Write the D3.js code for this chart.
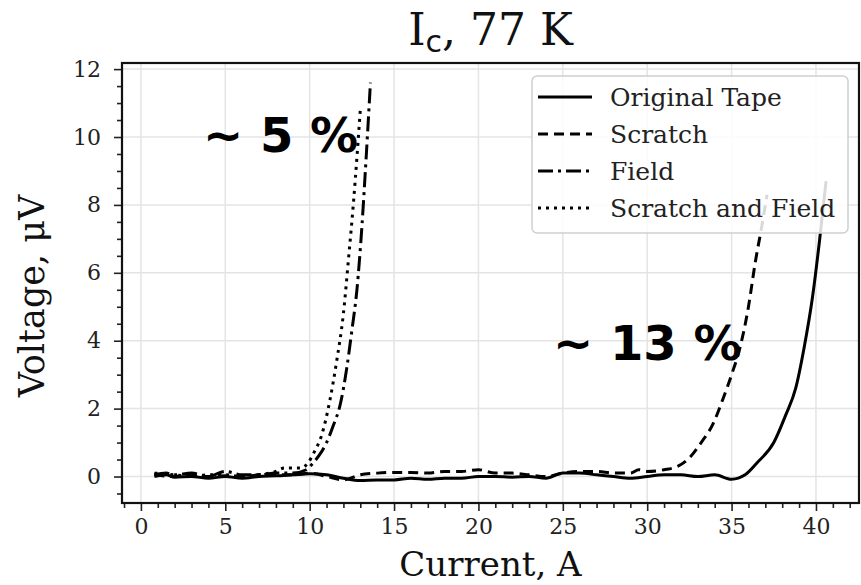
<!DOCTYPE html>
<html>
<head>
<meta charset="utf-8">
<script src="https://cdn.jsdelivr.net/npm/d3@7"></script>
<style>
  html, body { margin: 0; padding: 0; background: #fff; }
  svg { display: block; }
</style>
</head>
<body>
<svg id="chart" width="861" height="585"></svg>
<script>
// ---- Data ----
const originalX = [0.8,1.5,2,3,4,5,6,7,8,9,10,11,12,13,14,15,16,17,18,19,20,21,22,23,24,25,26,27,28,29,30,31,32,33,34,35,35.8,36.5,37.5,38.2,38.8,39.3,39.8,40.2,40.6];
const originalV = [0.0,0.05,-0.02,0.0,-0.05,0.0,-0.05,0.0,0.02,0.05,0.08,0.05,-0.05,-0.12,-0.1,-0.1,-0.05,-0.08,-0.05,-0.05,0.0,0.0,-0.02,0.0,-0.05,0.1,0.1,0.05,0.0,-0.05,0.0,0.05,0.05,0.0,0.05,-0.08,0.05,0.4,1.0,1.8,2.6,3.8,5.3,6.9,8.7];

const scratchX = [0.8,2,3,4,5,6,7,8,9,10,11,12,13,14,15,16,17,18,19,20,21,22,23,24,25,26,27,28,29,29.5,30,31,31.8,32.5,33.2,33.9,34.5,35,35.5,36,36.4,36.8,37.1];
const scratchV = [0.05,0.0,0.05,0.0,0.02,-0.02,0.05,0.05,0.05,0.1,0.0,-0.1,0.05,0.1,0.12,0.12,0.1,0.15,0.15,0.2,0.1,0.1,0.05,0.0,0.1,0.15,0.15,0.1,0.1,0.2,0.15,0.2,0.3,0.55,1.0,1.55,2.3,3.0,3.8,5.0,6.3,7.4,8.3];

const fieldX = [0.8,1.5,2,3,4,5,6,7,8,9,9.8,10.2,10.6,11,11.4,11.8,12.2,12.5,12.8,13.1,13.3,13.6];
const fieldV = [0.05,0.1,0.05,0.1,0.0,0.15,0.05,0.05,0.1,0.1,0.2,0.4,0.65,1.0,1.5,2.1,3.2,4.3,5.5,7.4,9.0,11.6];

const scratchFieldX = [0.8,2,3,4,5,6,7,8,8.5,9,9.5,9.9,10.3,10.7,11.2,11.6,12.0,12.3,12.6,12.8,13.0];
const scratchFieldV = [0.1,0.05,0.0,0.05,0.05,0.0,0.05,0.15,0.25,0.25,0.25,0.4,0.75,1.2,2.25,3.4,4.8,6.4,8.1,9.4,10.8];

const seriesNames = ["Original Tape", "Scratch", "Field", "Scratch and Field"];
const xTicks = [0,5,10,15,20,25,30,35,40];
const yTicks = [0,2,4,6,8,10,12];
const annotations = [
  { text: "~ 5 %", x: 3.68, y: 9.56 },
  { text: "~ 13 %", x: 24.42, y: 3.43 }
];

// ---- Layout ----
const svg = d3.select("#chart");
const L = 122, R = 859, T = 63, B = 503;
const x = d3.scaleLinear().domain([-1.12, 42.55]).range([L, R]);
const y = d3.scaleLinear().domain([-0.78, 12.18]).range([B, T]);

const serif = "'DejaVu Serif', serif";
const styles = [
  { dash: null },
  { dash: "10,6" },
  { dash: "15,5,3,5" },
  { dash: "3,5" }
];
const series = [
  d3.zip(originalX, originalV),
  d3.zip(scratchX, scratchV),
  d3.zip(fieldX, fieldV),
  d3.zip(scratchFieldX, scratchFieldV)
];

// grid
const grid = svg.append("g");
grid.selectAll("line.gx").data(xTicks).join("line")
  .attr("x1", d => x(d)).attr("x2", d => x(d)).attr("y1", T).attr("y2", B)
  .attr("stroke", "#e4e4e4").attr("stroke-width", 1.5);
grid.selectAll("line.gy").data(yTicks).join("line")
  .attr("y1", d => y(d)).attr("y2", d => y(d)).attr("x1", L).attr("x2", R)
  .attr("stroke", "#e4e4e4").attr("stroke-width", 1.5);

// curves
svg.append("clipPath").attr("id", "clip")
  .append("rect").attr("x", L).attr("y", T).attr("width", R - L).attr("height", B - T);
const line = d3.line().curve(d3.curveMonotoneX).x(d => x(d[0])).y(d => y(d[1]));
const plot = svg.append("g").attr("clip-path", "url(#clip)");
series.forEach((s, i) => {
  plot.append("path").datum(s).attr("d", line)
    .attr("fill", "none").attr("stroke", "#000").attr("stroke-width", 3)
    .attr("stroke-linejoin", "round")
    .attr("stroke-dasharray", styles[i].dash);
});

// axes
const xAxis = svg.append("g").attr("transform", `translate(0,${B})`)
  .call(d3.axisBottom(x).tickValues(xTicks).tickSize(8).tickPadding(7).tickFormat(d3.format("d")));
const xMinor = svg.append("g").attr("transform", `translate(0,${B})`)
  .call(d3.axisBottom(x).tickValues(d3.range(-1, 43, 1).filter(v => v % 5 !== 0)).tickSize(5).tickFormat(""));
const yAxis = svg.append("g").attr("transform", `translate(${L},0)`)
  .call(d3.axisLeft(y).tickValues(yTicks).tickSize(8).tickPadding(13).tickFormat(d3.format("d")));
const yMinor = svg.append("g").attr("transform", `translate(${L},0)`)
  .call(d3.axisLeft(y).tickValues(d3.range(-0.5, 12.1, 0.5).filter(v => Math.abs(v % 2) > 0.01)).tickSize(5).tickFormat(""));
[xAxis, xMinor, yAxis, yMinor].forEach(g => {
  g.select(".domain").remove();
  g.selectAll(".tick line").attr("stroke", "#222").attr("stroke-width", 1.6);
  g.selectAll("text").attr("font-family", serif).attr("font-size", 22).attr("fill", "#222");
});

// frame
svg.append("rect").attr("x", L).attr("y", T).attr("width", R - L).attr("height", B - T)
  .attr("fill", "none").attr("stroke", "#111").attr("stroke-width", 2.2);

// title
const title = svg.append("text").attr("x", (L + R) / 2).attr("y", 45)
  .attr("text-anchor", "middle").attr("font-family", serif).attr("font-size", 44).attr("fill", "#111");
title.append("tspan").text("I");
title.append("tspan").attr("font-family", "'DejaVu Sans', sans-serif").attr("font-size", 30).attr("dy", 7).text("c");
title.append("tspan").attr("dy", -7).text(", 77 K");

// axis labels
svg.append("text").attr("x", (L + R) / 2).attr("y", 576).attr("text-anchor", "middle")
  .attr("font-family", serif).attr("font-size", 34).attr("fill", "#111").text("Current, A");
svg.append("text").attr("transform", `translate(44,296) rotate(-90)`).attr("text-anchor", "middle")
  .attr("font-family", serif).attr("font-size", 35).attr("fill", "#111").text("Voltage, μV");

// legend
const lg = svg.append("g");
lg.append("rect").attr("x", 532).attr("y", 76).attr("width", 316).attr("height", 157).attr("rx", 5)
  .attr("fill", "#fff").attr("fill-opacity", 0.85).attr("stroke", "#cfcfcf").attr("stroke-width", 1.5);
seriesNames.forEach((n, i) => {
  const yy = 97 + i * 37;
  lg.append("line").attr("x1", 538).attr("x2", 592).attr("y1", yy).attr("y2", yy)
    .attr("stroke", "#000").attr("stroke-width", 3).attr("stroke-dasharray", styles[i].dash);
  lg.append("text").attr("x", 610).attr("y", yy + 9).attr("font-family", serif).attr("font-size", 25)
    .attr("fill", "#222").text(n);
});

// annotations
annotations.forEach(a => {
  svg.append("text").attr("x", x(a.x)).attr("y", y(a.y)).attr("font-family", "'DejaVu Sans', sans-serif")
    .attr("font-weight", "bold").attr("font-size", 48).attr("fill", "#000").text(a.text);
});
</script>
</body>
</html>
